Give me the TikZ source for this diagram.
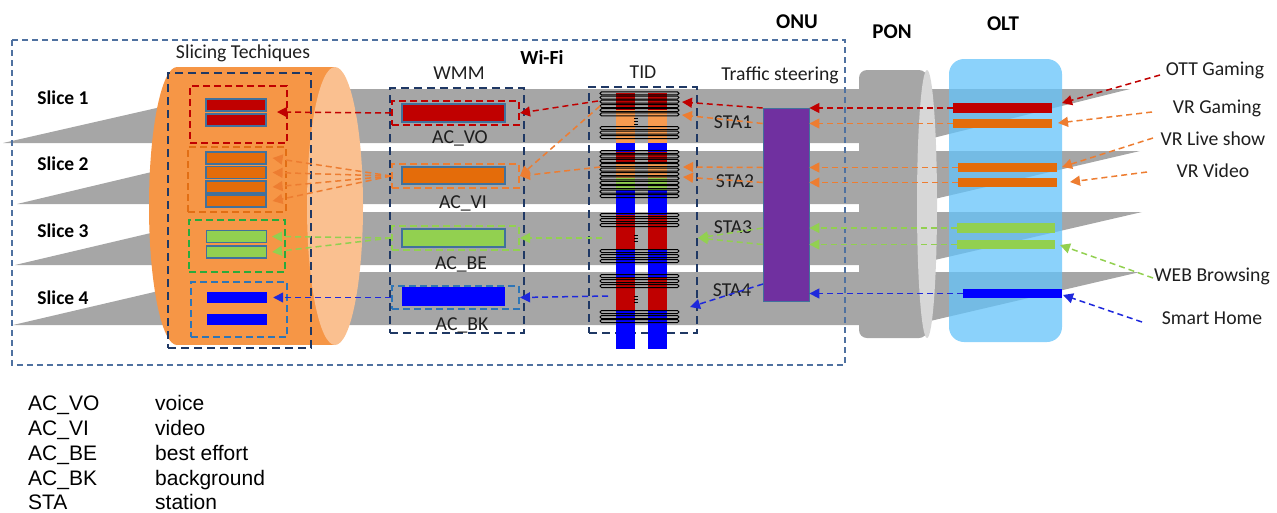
\documentclass[tikz,border=0pt]{standalone}
\usepackage{fontspec}
\setmainfont{Carlito}
\newfontfamily\legendfont{Liberation Sans}
\usetikzlibrary{arrows.meta,positioning}
\definecolor{bandgray}{RGB}{166,166,166}
\definecolor{slicebody}{RGB}{246,150,70}
\definecolor{sliceface}{RGB}{250,192,144}
\definecolor{ponface}{RGB}{215,215,215}
\definecolor{oltblue}{RGB}{100,195,250}
\definecolor{vred}{RGB}{192,0,0}
\definecolor{vorange}{RGB}{228,108,10}
\definecolor{arcorange}{RGB}{237,125,49}
\definecolor{boxorange}{RGB}{226,110,20}
\definecolor{tidorange}{RGB}{247,155,80}
\definecolor{vgreen}{RGB}{146,208,80}
\definecolor{dgreen}{RGB}{40,170,60}
\definecolor{vblue}{RGB}{0,0,255}
\definecolor{arcblue}{RGB}{30,40,220}
\definecolor{steerpurple}{RGB}{112,48,160}
\definecolor{navydash}{RGB}{31,56,100}
\definecolor{skydash}{RGB}{46,117,182}
\definecolor{framedash}{RGB}{79,113,160}
\definecolor{barline}{RGB}{65,113,156}
\definecolor{textgray}{RGB}{30,30,30}
\tikzset{
  band/.style={fill=bandgray},
  framebox/.style={draw=framedash,line width=1.2pt,dash pattern=on 6pt off 4pt},
  groupbox/.style={rectangle,draw=navydash,line width=2pt,dash pattern=on 8pt off 5pt,inner sep=0pt},
  classbox/.style={rectangle,line width=2pt,dash pattern=on 7pt off 4pt,inner sep=0pt},
  bar/.style={rectangle,inner sep=0pt,minimum width=60pt,minimum height=12pt},
  queue/.style={bar,draw=barline,line width=1.2pt},
  flowbar/.style={rectangle,inner sep=0pt,minimum width=99pt,minimum height=9.5pt},
  tidline/.style={draw=black,line width=1pt,rounded corners=1.5pt},
  arc/.style={-{Triangle[length=10pt,width=10pt]},line width=1.5pt,dash pattern=on 6pt off 4pt},
  redarc/.style={arc,vred},
  orangearc/.style={arc,arcorange},
  greenarc/.style={arc,vgreen},
  bluearc/.style={arc,arcblue},
  txt/.style={font=\fontsize{19.7}{22}\selectfont,text=textgray,inner sep=0pt},
  headtxt/.style={font=\bfseries\fontsize{21}{24}\selectfont,inner sep=0pt},
  slicetxt/.style={font=\bfseries\fontsize{19.5}{22}\selectfont,inner sep=0pt},
  legendtxt/.style={font=\legendfont\fontsize{21}{24}\selectfont,anchor=base west,inner sep=0pt}
}
\begin{document}
\begin{tikzpicture}[x=1pt,y=-1pt]
  \useasboundingbox (0,0) rectangle (1277,512);
  % slice bands
  \foreach \t/\b/\tl/\tr in {89/143/3/1130,151/204/17/1140,212/265/15/1142,272/325/13/1140}
    \fill[band] (\tl,\b) -- (240,\t) -- (\tr,\t) -- (913,\b) -- cycle;
  % slicing cylinder
  \fill[slicebody] (177,67) rectangle (335,345);
  \fill[slicebody] (177,206) ellipse [x radius=28,y radius=139];
  \fill[sliceface] (335,206) ellipse [x radius=28,y radius=139];
  % PON
  \fill[bandgray,rounded corners=8pt] (859,70) rectangle (927,338);
  \fill[ponface] (927,204) ellipse [x radius=10,y radius=134];
  % OLT
  \fill[oltblue,fill opacity=0.75,rounded corners=15pt] (949,59) rectangle (1062,342);
  \draw[framebox] (12,40) rectangle (845,365);

  % group boxes
  \node[groupbox,minimum width=143pt,minimum height=275pt] (sliceBox) at (239.5,210.5) {};
  \node[groupbox,minimum width=134pt,minimum height=245pt] (wmmBox) at (457,210.5) {};
  \node[groupbox,minimum width=108pt,minimum height=246pt] (tidBox) at (643,210) {};
  \node[classbox,draw=vred,minimum width=97pt,minimum height=57pt] (s1box) at (238.5,114.5) {};
  \node[classbox,draw=boxorange,minimum width=98pt,minimum height=65pt] (s2box) at (237,179.5) {};
  \node[classbox,draw=dgreen,minimum width=96pt,minimum height=52pt] (s3box) at (237,246) {};
  \node[classbox,draw=skydash,minimum width=96pt,minimum height=55pt] (s4box) at (239,309.5) {};
  \node[classbox,draw=vred,minimum width=127pt,minimum height=24pt] (voBox) at (455.5,113) {};
  \node[classbox,draw=arcorange,minimum width=127pt,minimum height=24pt] (viBox) at (455.5,176) {};
  \node[classbox,draw=vgreen,minimum width=127pt,minimum height=24pt] (beBox) at (455.5,238) {};
  \node[classbox,draw=skydash,minimum width=127pt,minimum height=23pt] (bkBox) at (455.5,297.5) {};

  % slicing queues
  \node[queue,fill=vred] (s1a) at (236,105) {};
  \node[queue,fill=vred] (s1b) at (236,120) {};
  \node[queue,fill=vorange] (s2a) at (236,158) {};
  \node[queue,fill=vorange] (s2b) at (236,172.5) {};
  \node[queue,fill=vorange] (s2c) at (236,187) {};
  \node[queue,fill=vorange] (s2d) at (236,201) {};
  \node[queue,fill=vgreen] (s3a) at (236.5,236.5) {};
  \node[queue,fill=vgreen] (s3b) at (236.5,252) {};
  \node[bar,fill=vblue,minimum height=11pt] (s4a) at (237,297.5) {};
  \node[bar,fill=vblue,minimum height=11pt] (s4b) at (237,319) {};

  % WMM queues
  \node[queue,fill=vred,minimum width=103pt,minimum height=18pt] (vo) at (453.5,113) {};
  \node[queue,fill=vorange,minimum width=103pt,minimum height=17pt] (vi) at (453.5,175.5) {};
  \node[queue,fill=vgreen,minimum width=103pt,minimum height=18pt] (be) at (453.5,238) {};
  \node[bar,fill=vblue,minimum width=103pt,minimum height=19pt] (bk) at (453.5,296.5) {};

  % TID stripes and lines
  \foreach \xa in {616,648}
    \foreach \ya/\yb/\c in {93/110/vred,110/143/tidorange,143/152/vblue,152/163/vred,163/178/tidorange,178/190/vgreen,190/215/vblue,215/250/vred,250/277/vblue,277/310/vred,310/349/vblue}
      \fill[\c] (\xa,\ya) rectangle (\xa+19,\yb);
  \foreach \y in {93.3,97.5,101.7,106,110.2,114.4,128,132.5,137,152,156.4,160.8,165.2,169.6,174,178.4,182.8,187.2,191.6,196,215,220,225,251,256,261,276,281,286,312,317,321}
    \draw[tidline] (600,\y-1.5) rectangle (679,\y+1.5);
  \foreach \ya in {118,235,296}
    \foreach \d in {0,3,6}
      \draw[line width=0.6pt] (634,\ya+\d) -- (638,\ya+\d);

  % traffic steering
  \node[rectangle,fill=steerpurple,draw=barline,line width=0.8pt,inner sep=0pt,
    minimum width=46pt,minimum height=193pt] (onu) at (786,204.5) {};

  % OLT flows
  \node[flowbar,fill=vred] (oltR) at (1002.5,108) {};
  \node[flowbar,fill=vorange] (oltO1) at (1002.5,123.5) {};
  \node[flowbar,fill=vorange] (oltO2) at (1007.5,167.5) {};
  \node[flowbar,fill=vorange] (oltO3) at (1007.5,182.5) {};
  \node[flowbar,fill=vgreen,minimum width=98pt] (oltG1) at (1006,228) {};
  \node[flowbar,fill=vgreen,minimum width=98pt] (oltG2) at (1006,244.5) {};
  \node[flowbar,fill=vblue] (oltB) at (1012.5,293.5) {};

  % texts
  \node[headtxt] (onuTxt) at (797,22) {ONU};
  \node[headtxt] (ponTxt) at (892,32) {PON};
  \node[headtxt] (oltTxt) at (1003,24) {OLT};
  \node[headtxt,font=\bfseries\fontsize{20}{24}\selectfont] (wifiTxt) at (542,57) {Wi-Fi};
  \node[txt] (sliceTxt) at (243,53) {Slicing Techiques};
  \node[txt] (wmmTxt) at (459,73) {WMM};
  \node[txt] (tidTxt) at (643,72) {TID};
  \node[txt] (steerTxt) at (780,75) {Traffic steering};
  \node[slicetxt] (slice1) at (63,98) {Slice 1};
  \node[slicetxt] (slice2) at (63,164) {Slice 2};
  \node[slicetxt] (slice3) at (63,231) {Slice 3};
  \node[slicetxt] (slice4) at (63,298) {Slice 4};
  \node[txt] (voTxt) at (460,138) {AC\_VO};
  \node[txt] (viTxt) at (463,203) {AC\_VI};
  \node[txt] (beTxt) at (461,264) {AC\_BE};
  \node[txt] (bkTxt) at (462,325) {AC\_BK};
  \node[txt] (sta1) at (733,122) {STA1};
  \node[txt] (sta2) at (735,181) {STA2};
  \node[txt] (sta3) at (733,227) {STA3};
  \node[txt] (sta4) at (732,290) {STA4};
  \node[txt] (lOTT) at (1215,70) {OTT Gaming};
  \node[txt] (lVRG) at (1217,108) {VR Gaming};
  \node[txt] (lVRL) at (1213,139) {VR Live show};
  \node[txt] (lVRV) at (1213,171) {VR Video};
  \node[txt] (lWEB) at (1212,276) {WEB Browsing};
  \node[txt] (lSH) at (1212,318) {Smart Home};

  % legend
  \foreach \y/\k/\v [count=\i] in {410/AC\_VO/voice,435/AC\_VI/video,460/AC\_BE/best effort,485/AC\_BK/background,509.5/STA/station}{
    \node[legendtxt] (key\i) at (28,\y) {\k};
    \node[legendtxt] (val\i) at (155,\y) {\v};
  }

  % arrow ends
  \coordinate (sOTT) at (1160,75);  \coordinate (tOTT) at (1062,103);
  \coordinate (sVRG) at (1152,112); \coordinate (tVRG) at (1058,123);
  \coordinate (sVRL) at (1153,138); \coordinate (tVRL) at (1062,167);
  \coordinate (sVRV) at (1147,172); \coordinate (tVRV) at (1070,182);
  \coordinate (sWEB) at (1153,278); \coordinate (tWEB) at (1060,245);
  \coordinate (sSH) at (1142,322);  \coordinate (tSH) at (1063,295);
  \coordinate (tidR) at (682,102);  \coordinate (xR) at (598,101);
  \coordinate (tidO1) at (682,115); \coordinate (xO1) at (600,106);
  \coordinate (tidO2) at (683,167); \coordinate (xO2) at (600,167);
  \coordinate (tidO3) at (683,177);
  \coordinate (tidG) at (698,238);  \coordinate (xG) at (602,238);
  \coordinate (bOut) at (763,284);
  \coordinate (tidB) at (690,307);  \coordinate (xB) at (608,296);
  \coordinate (sl1) at (277,112);

  % red flow
  \draw[redarc] (sOTT) -- (tOTT);
  \draw[redarc] (oltR.west) -- (oltR.west -| onu.east);
  \draw[redarc] (onu.west |- oltR) -- (tidR);
  \draw[redarc] (xR) -- (voBox.east);
  \draw[redarc] (voBox.west) -- (sl1);
  % orange flows
  \draw[orangearc] (sVRG) -- (tVRG);
  \draw[orangearc] (sVRL) -- (tVRL);
  \draw[orangearc] (sVRV) -- (tVRV);
  \draw[orangearc] (oltO1.west) -- (oltO1.west -| onu.east);
  \draw[orangearc] (oltO2.west) -- (oltO2.west -| onu.east);
  \draw[orangearc] (oltO3.west) -- (oltO3.west -| onu.east);
  \draw[orangearc] (onu.west |- oltO1) -- (tidO1);
  \draw[orangearc] (onu.west |- oltO2) -- (tidO2);
  \draw[orangearc] (onu.west |- oltO3) -- (tidO3);
  \draw[orangearc] (xO1) -- (viBox.east);
  \draw[orangearc] (xO2) -- (viBox.east);
  \foreach \q in {s2a,s2b,s2c,s2d}
    \draw[orangearc] (viBox.west) -- ([xshift=6pt]\q.east);
  % green flows
  \draw[greenarc] (sWEB) -- (tWEB);
  \draw[greenarc] (oltG1.west) -- (oltG1.west -| onu.east);
  \draw[greenarc] (oltG2.west) -- (oltG2.west -| onu.east);
  \draw[greenarc] (onu.west |- oltG1) -- (tidG);
  \draw[greenarc] (onu.west |- oltG2) -- (tidG);
  \draw[greenarc] (xG) -- (beBox.east);
  \draw[greenarc] (beBox.west) -- ([xshift=5pt]s3a.east);
  \draw[greenarc] (beBox.west) -- ([xshift=5pt]s3b.east);
  % blue flow
  \draw[bluearc] (sSH) -- (tSH);
  \draw[bluearc] (oltB.west) -- (oltB.west -| onu.east);
  \draw[bluearc] (bOut) -- (tidB);
  \draw[bluearc] (xB) -- (bkBox.east);
  \draw[bluearc] (bkBox.west) -- ([xshift=6pt]s4a.east);
\end{tikzpicture}
\end{document}
